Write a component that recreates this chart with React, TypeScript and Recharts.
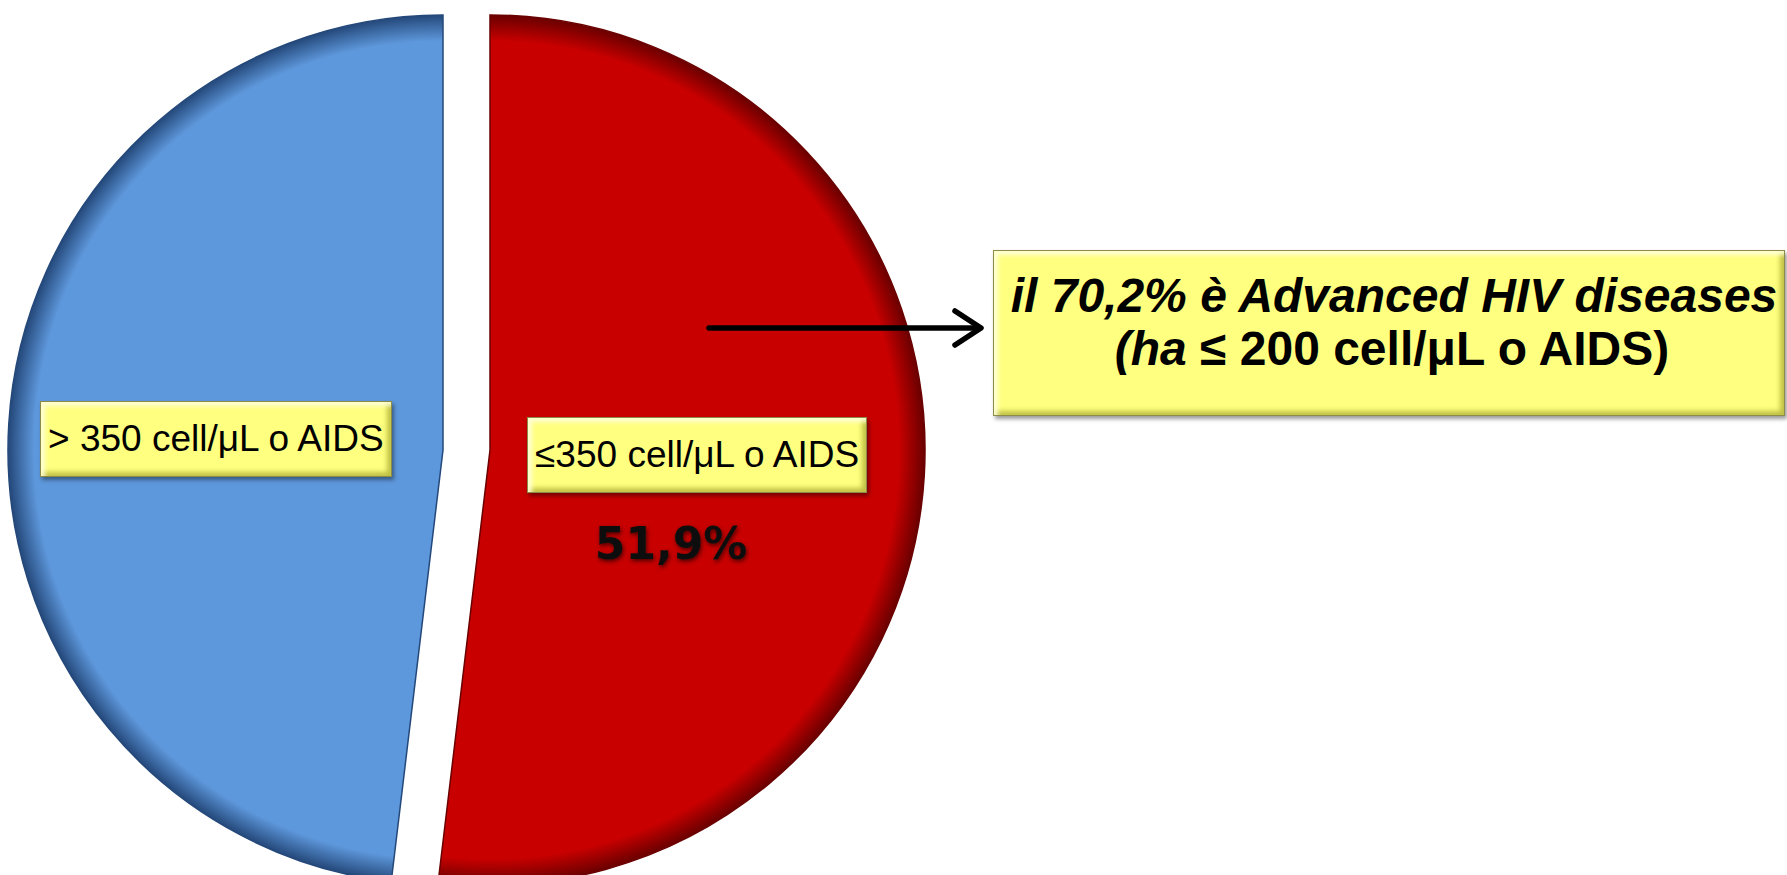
import React from "react";
import { PieChart, Pie, Cell } from "recharts";

// slices, clockwise from 12 o'clock
const categories = ["≤350 cell/μL o AIDS", "> 350 cell/μL o AIDS"];
const values = [51.9, 48.1];
const valueLabels = ["51,9%", ""];
const sliceColors = ["#C80000", "#5E98DC"];
const rimColors = ["#6a0000", "#24487a"];

const calloutLine1 = "il 70,2% è Advanced HIV diseases";
const calloutLine2a = "(ha";
const calloutLine2b = " ≤ 200 cell/μL o AIDS)";

const data = categories.map((name, i) => ({ name, value: values[i] }));

const W = 1787;
const H = 875;
const CY = 450;
const R = 435;
const CX = [490, 443]; // red slice is pulled out to the right

const RAD = Math.PI / 180;

const bevelBox: React.CSSProperties = {
  background: "#ffff80",
  border: "1px solid #8c8c48",
  boxShadow:
    "inset 4px 4px 4px rgba(255,255,220,0.9), inset -4px -4px 5px rgba(140,140,20,0.55), 2px 3px 4px rgba(0,0,0,0.4)",
  color: "#000",
  whiteSpace: "nowrap",
  fontFamily: "'Liberation Sans', Arial, sans-serif",
};

const makeLabel = (show: number) => (p: any) => {
  if (p.index !== show) return null;
  const r = p.outerRadius * 0.5;
  const x = p.cx + r * Math.cos(-p.midAngle * RAD) - 10;
  const y = p.cy - 3 + 0.6 * r * Math.sin(-p.midAngle * RAD);
  const pct = valueLabels[p.index];
  return (
    <g>
      <foreignObject x={x - 300} y={y - 60} width={600} height={120}>
        <div
          style={{
            width: 600,
            height: 120,
            display: "flex",
            alignItems: "center",
            justifyContent: "center",
          }}
        >
          <div
            style={{
              ...bevelBox,
              fontSize: 37,
              lineHeight: "42px",
              padding: "16px 7px",
            }}
          >
            {categories[p.index]}
          </div>
        </div>
      </foreignObject>
      {pct && (
        <text
          x={x - 26}
          y={y + 104}
          textAnchor="middle"
          fontFamily="'DejaVu Sans', Verdana, sans-serif"
          fontWeight="bold"
          fontSize={44}
          fill="#111"
          filter="url(#pctShadow)"
        >
          {pct}
        </text>
      )}
    </g>
  );
};

export default function App() {
  return (
    <div
      style={{
        position: "absolute",
        left: 0,
        top: 0,
        width: W,
        height: H,
        background: "#fff",
        overflow: "hidden",
      }}
    >
      <PieChart width={W} height={H} margin={{ top: 0, right: 0, bottom: 0, left: 0 }}>
        <defs>
          {sliceColors.map((c, i) => (
            <radialGradient
              key={i}
              id={`rim${i}`}
              gradientUnits="userSpaceOnUse"
              cx={CX[i]}
              cy={CY}
              r={R}
            >
              <stop offset="0%" stopColor={c} />
              <stop offset="94%" stopColor={c} />
              <stop offset="100%" stopColor={rimColors[i]} />
            </radialGradient>
          ))}
          <filter id="pctShadow" x="-20%" y="-30%" width="140%" height="160%">
            <feDropShadow dx="1" dy="2" stdDeviation="2" floodColor="#3a0000" floodOpacity="0.9" />
          </filter>
        </defs>

        {[0, 1].map((k) => (
          <Pie
            key={k}
            data={data}
            dataKey="value"
            nameKey="name"
            cx={CX[k]}
            cy={CY}
            outerRadius={R}
            startAngle={90}
            endAngle={-270}
            isAnimationActive={false}
            labelLine={false}
            label={makeLabel(k)}
          >
            {data.map((_, i) => (
              <Cell
                key={i}
                fill={i === k ? `url(#rim${i})` : "none"}
                stroke={i === k ? rimColors[i] : "none"}
                strokeWidth={1.5}
              />
            ))}
          </Pie>
        ))}
      </PieChart>

      {/* annotation layer: arrow and callout above the pie */}
      <svg
        width={W}
        height={H}
        style={{ position: "absolute", left: 0, top: 0, pointerEvents: "none" }}
      >
        <g stroke="#000" strokeWidth={5.5} fill="none" strokeLinecap="round">
          <line x1={709} y1={328} x2={978} y2={328} />
          <polyline points="955,311 981,328 955,345" strokeLinejoin="round" />
        </g>
      </svg>
      <div
        style={{
          ...bevelBox,
          position: "absolute",
          left: 993,
          top: 250,
          width: 792,
          height: 166,
          boxSizing: "border-box",
          paddingTop: 18,
          fontSize: 48,
          lineHeight: "53px",
          fontWeight: "bold",
          textAlign: "center",
        }}
      >
        <div style={{ fontStyle: "italic", paddingLeft: 10 }}>{calloutLine1}</div>
        <div style={{ paddingLeft: 6 }}>
          <span style={{ fontStyle: "italic" }}>{calloutLine2a}</span>
          {calloutLine2b}
        </div>
      </div>
    </div>
  );
}
